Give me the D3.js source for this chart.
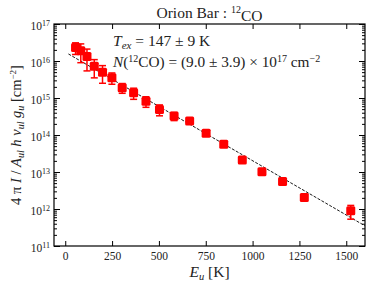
<!DOCTYPE html>
<html><head>
<script src="https://cdnjs.cloudflare.com/ajax/libs/d3/7.8.5/d3.min.js"></script>
<style>
  body { margin: 0; background: #fff; }
  svg text { font-family: "Liberation Serif", "DejaVu Serif", serif; fill: #222; }
</style>
</head>
<body>
<svg id="chart" width="374" height="288"></svg>
<script>
// CO rotational ladder, upper level energies [K]
const energies = [55, 83, 116, 155, 199, 249, 304, 365, 431, 503, 581, 664, 752, 846, 945, 1050, 1160, 1276, 1524];
// column density per statistical weight [cm^-2]
const columns = [2.3e16, 1.9e16, 1.32e16, 7.2e15, 5.0e15, 3.55e15, 1.9e15, 1.38e15, 8.2e14, 4.9e14, 3.25e14, 2.4e14, 1.12e14, 5.6e13, 2.1e13, 1.02e13, 5.5e12, 2.04e12, 8.9e11];
const errors = [0.8e16, 1.0e16, 7.8e15, 3.7e15, 2.5e15, 1.2e15, 0.56e15, 4.6e14, 2.6e14, 1.6e14, 0.8e14, 0.3e14, 0.1e14, 0.5e13, 0.2e13, 0.1e13, 0.5e12, 0.3e12, 3.6e11];
// rotation-diagram fit, end points
const fitE = [17, 1600];
const fitN = [1.55e16, 3.5e11];

const xTicks = [0, 250, 500, 750, 1000, 1250, 1500];
const yTicks = [1e11, 1e12, 1e13, 1e14, 1e15, 1e16, 1e17];

const margin = {left: 54, right: 9, top: 24, bottom: 42};
const W = 374, H = 288;
const iw = W - margin.left - margin.right;
const ih = H - margin.top - margin.bottom;

const svg = d3.select("#chart");
const g = svg.append("g").attr("transform", `translate(${margin.left},${margin.top})`);

const x = d3.scaleLinear().domain([-60, 1600]).range([0, iw]);
const y = d3.scaleLog().domain([1e11, 1e17]).range([ih, 0]);

const yMinor = [];
for (let e = 11; e < 17; e++) for (let k = 2; k <= 9; k++) yMinor.push(k * Math.pow(10, e));

function supLabels(sel) {
  sel.selectAll(".tick text").each(function(d) {
    const t = d3.select(this);
    t.text("10");
    t.append("tspan").attr("dy", "-0.45em").attr("font-size", "8px").text(Math.round(Math.log10(d)));
  });
}

// x axes (bottom, top)
const xb = g.append("g").attr("transform", `translate(0,${ih})`)
  .call(d3.axisBottom(x).tickValues(xTicks).tickFormat(d3.format("d"))
    .tickSizeInner(-5).tickSizeOuter(0).tickPadding(6));
xb.selectAll("text").attr("font-size", "11.5px");
g.append("g").call(d3.axisTop(x).tickValues(xTicks).tickSizeInner(-5).tickSizeOuter(0).tickFormat(""));

// y axes (left, right), major and minor
const yl = g.append("g")
  .call(d3.axisLeft(y).tickValues(yTicks).tickSizeInner(-6).tickSizeOuter(0).tickPadding(4));
yl.selectAll("text").attr("font-size", "11.5px").attr("dy", "0.45em");
supLabels(yl);
g.append("g").call(d3.axisLeft(y).tickValues(yMinor).tickSizeInner(-3).tickSizeOuter(0).tickFormat(""));
g.append("g").attr("transform", `translate(${iw},0)`)
  .call(d3.axisRight(y).tickValues(yTicks).tickSizeInner(-6).tickSizeOuter(0).tickFormat(""));
g.append("g").attr("transform", `translate(${iw},0)`)
  .call(d3.axisRight(y).tickValues(yMinor).tickSizeInner(-3).tickSizeOuter(0).tickFormat(""));

g.selectAll(".domain").remove();
g.selectAll(".tick line").attr("stroke", "#000").attr("stroke-width", 1);

g.append("rect").attr("width", iw).attr("height", ih)
  .attr("fill", "none").attr("stroke", "#000").attr("stroke-width", 1.2);

// fit line
const fit = fitE.map((e, i) => ({e: e, n: fitN[i]}));
g.append("path").datum(fit)
  .attr("d", d3.line().x(d => x(d.e)).y(d => y(d.n)))
  .attr("fill", "none").attr("stroke", "#000").attr("stroke-width", 0.9)
  .attr("stroke-dasharray", "3,1.5");

// data with error bars
const pts = energies.map((e, i) => ({e: e, n: columns[i], s: errors[i]}));
const eb = g.append("g").attr("stroke", "#ff0000").attr("stroke-width", 1.5);
pts.forEach(d => {
  const lo = y(d.n - d.s), hi = y(d.n + d.s), cx = x(d.e);
  eb.append("line").attr("x1", cx).attr("x2", cx).attr("y1", lo).attr("y2", hi);
  eb.append("line").attr("x1", cx - 3.5).attr("x2", cx + 3.5).attr("y1", lo).attr("y2", lo);
  eb.append("line").attr("x1", cx - 3.5).attr("x2", cx + 3.5).attr("y1", hi).attr("y2", hi);
});
g.append("g").selectAll("rect").data(pts).join("rect")
  .attr("x", d => x(d.e) - 4.5).attr("y", d => y(d.n) - 4.5)
  .attr("width", 9).attr("height", 9).attr("rx", 1.5)
  .attr("fill", "#ff0000");

// title
const title = svg.append("text").attr("x", margin.left + iw / 2).attr("y", 18)
  .attr("text-anchor", "middle").attr("font-size", "15.5px");
title.append("tspan").text("Orion Bar :  ");
title.append("tspan").attr("font-size", "10px").attr("dy", "-0.55em").text("12");
title.append("tspan").attr("dy", "0.55em").text("CO");

// annotations
const a1 = svg.append("text").attr("x", 113).attr("y", 46).attr("font-size", "15.5px");
a1.append("tspan").attr("font-style", "italic").text("T");
a1.append("tspan").attr("font-style", "italic").attr("font-size", "11px").attr("dy", "3").text("ex");
a1.append("tspan").attr("dy", "-3").text(" = 147 \u00b1 9 K");

const a2 = svg.append("text").attr("x", 113).attr("y", 67).attr("font-size", "15.3px");
a2.append("tspan").attr("font-style", "italic").text("N");
a2.append("tspan").text("(");
a2.append("tspan").attr("font-size", "10px").attr("dy", "-5").text("12");
a2.append("tspan").attr("dy", "5").text("CO) = (9.0 \u00b1 3.9) \u00d7 10");
a2.append("tspan").attr("font-size", "10px").attr("dy", "-5").text("17");
a2.append("tspan").attr("dy", "5").text(" cm");
a2.append("tspan").attr("font-size", "10px").attr("dy", "-5").text("\u22122");

// axis labels
const xl = svg.append("text").attr("x", margin.left + iw / 2).attr("y", 277)
  .attr("text-anchor", "middle").attr("font-size", "15.5px");
xl.append("tspan").attr("font-style", "italic").text("E");
xl.append("tspan").attr("font-style", "italic").attr("font-size", "10.5px").attr("dy", "3").text("u");
xl.append("tspan").attr("dy", "-3").text(" [K]");

const ylab = svg.append("text").attr("transform", `translate(21,${margin.top + ih / 2}) rotate(-90)`)
  .attr("text-anchor", "middle").attr("font-size", "14.5px");
ylab.append("tspan").text("4 \u03c0 ");
ylab.append("tspan").attr("font-style", "italic").text("I");
ylab.append("tspan").text(" / ");
ylab.append("tspan").attr("font-style", "italic").text("A");
ylab.append("tspan").attr("font-style", "italic").attr("font-size", "10px").attr("dy", "3").text("ul");
ylab.append("tspan").attr("font-style", "italic").attr("dy", "-3").text(" h \u03bd");
ylab.append("tspan").attr("font-style", "italic").attr("font-size", "10px").attr("dy", "3").text("ul");
ylab.append("tspan").attr("font-style", "italic").attr("dy", "-3").text(" g");
ylab.append("tspan").attr("font-style", "italic").attr("font-size", "10px").attr("dy", "3").text("u");
ylab.append("tspan").attr("dy", "-3").text(" [cm");
ylab.append("tspan").attr("font-size", "9px").attr("dy", "-5").text("\u22122");
ylab.append("tspan").attr("dy", "5").text("]");
</script>
</body></html>
